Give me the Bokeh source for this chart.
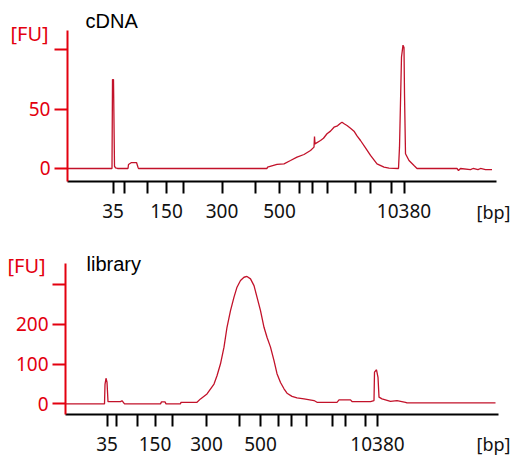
from bokeh.plotting import figure
from bokeh.models import FixedTicker, Range1d, Label
from bokeh.layouts import column
from bokeh.embed import file_html
from bokeh.resources import INLINE

# Ladder sizes (bp) and which ones carry a label
ladder_bp = [35, 50, 100, 150, 200, 300, 400, 500, 600, 700, 1000, 2000, 3000, 7000, 10380]
labeled_bp = [35, 150, 300, 500, 10380]

# cDNA run: migration time (s) of each ladder band
cdna_ladder_time = [22.5, 24.8, 29.3, 33.2, 36.5, 44.3, 51.0, 55.8, 59.8, 62.3, 65.4, 70.9, 73.9, 78.1, 80.7]
cdna_time = [13.4, 22.3, 22.4, 22.6, 22.8, 23.0, 23.4, 25.5, 25.6, 26.2, 27.2, 27.5, 27.6,
             53.3, 53.4, 55.3, 56.7, 58.0, 59.3, 60.7, 62.0, 62.7, 62.8, 62.9, 64.0, 64.6,
             65.3, 66.0, 66.7, 67.4, 68.0, 68.3, 68.8, 69.3, 70.0, 70.7, 71.3, 72.0, 73.0,
             74.0, 75.3, 76.7, 77.7, 79.6, 79.8, 80.2, 80.5, 80.7, 80.8, 81.0, 81.7, 82.7,
             83.3, 91.3, 91.6, 92.0, 94.0, 94.5, 95.5, 96.0, 97.0, 98.3]
cdna_fu = [0, 0, 75, 75, 2, 0.5, 0, 0, 3.4, 5, 5, 1, 0,
           0, 1.1, 3.4, 3.9, 6.7, 9.6, 11.8, 15.2, 18, 27, 20.8, 23.6, 25.5,
           29.3, 31.5, 34.8, 36.0, 38.2, 39, 37.5, 36.3, 34.0, 31.5, 27.5, 23.6, 17.4,
           11, 3.9, 1.1, 0.3, 0, 18, 94, 104, 102, 63, 12.4, 6.7, 2.5,
           0, 0, -1.7, 0, -1, 0, -1, 0, -1, -1]

# Library run
lib_ladder_time = [21.3, 23.1, 27.3, 30.9, 34.3, 41.2, 47.7, 52.0, 55.5, 58.1, 61.1, 66.3, 69.0, 72.9, 75.4]
lib_time = [13.0, 20.8, 20.9, 21.1, 21.3, 21.5, 24.0, 24.3, 24.8, 32.0, 32.2, 32.9, 33.1,
            36.0, 36.1, 39.3, 40.0, 41.3, 42.7, 43.3, 44.0, 44.7, 45.3, 46.0, 46.7, 47.3,
            48.0, 48.7, 49.3, 50.0, 50.7, 51.3, 52.0, 52.7, 53.3, 54.0, 54.7, 55.3, 56.0,
            56.7, 57.3, 58.3, 59.3, 60.7, 62.7, 63.3, 67.3, 67.7, 70.0, 70.3, 74.0, 74.7,
            74.8, 75.2, 75.5, 75.7, 76.3, 78.0, 79.3, 81.0, 81.3, 99.0]
lib_fu = [0, 0, 49, 64.5, 55, 5.8, 5.8, 8, 0, 0, 5, 5, 0,
          0, 4, 4, 12.6, 25, 50, 71, 101, 143, 193, 235, 269, 294,
          311, 319, 321, 315, 298, 269, 235, 193, 168, 143, 109, 76, 54,
          38, 27, 19, 15, 12.6, 8.4, 4, 4, 10, 10, 5.9, 5.9, 8.4,
          80, 86, 67, 17, 12.6, 6.5, 8, 4, 2.5, 2.5]

cdna_fu_ticks = [0, 50, 100]
lib_fu_ticks = [0, 100, 200, 300]

RED = "#e3000f"
TRACE = "#c2122a"
TICK_FONT = "Noto Sans"
TITLE_FONT = "Liberation Sans"


def panel(name, t, fu, ladder_t, fu_ticks, xr, yr, xb, yb, labels_pos):
    # frame spans the whole canvas; axes sit at fixed locations with bounds
    p = figure(width=513, height=228, output_backend="svg", toolbar_location=None,
               x_range=Range1d(*xr), y_range=Range1d(*yr),
               min_border_left=0, min_border_right=0,
               min_border_top=0, min_border_bottom=0)
    p.title.visible = False
    p.outline_line_color = None
    p.xgrid.visible = False
    p.ygrid.visible = False
    p.background_fill_color = "white"
    p.border_fill_color = "white"

    p.line(t, fu, line_color=TRACE, line_width=1.3)

    xa = p.xaxis[0]
    xa.fixed_location = yb[0]
    xa.bounds = xb
    xa.ticker = FixedTicker(ticks=ladder_t, minor_ticks=[])
    xa.major_label_overrides = {lt: (str(bp) if bp in labeled_bp else "")
                                for lt, bp in zip(ladder_t, ladder_bp)}
    xa.axis_line_color = "black"
    xa.axis_line_width = 2
    xa.major_tick_line_color = "black"
    xa.major_tick_line_width = 2
    xa.major_tick_in = 0
    xa.major_tick_out = 12
    xa.major_label_standoff = 10
    xa.major_label_text_font = TICK_FONT
    xa.major_label_text_font_size = "19px"
    xa.major_label_text_color = "#111111"

    ya = p.yaxis[0]
    ya.fixed_location = xb[0]
    ya.bounds = yb
    ya.ticker = FixedTicker(ticks=fu_ticks, minor_ticks=[])
    ya.major_label_overrides = {fu_ticks[-1]: ""}
    ya.axis_line_color = RED
    ya.axis_line_width = 2
    ya.major_tick_line_color = RED
    ya.major_tick_line_width = 2
    ya.major_tick_in = 0
    ya.major_tick_out = 13
    ya.major_label_standoff = 4
    ya.major_label_text_font = TICK_FONT
    ya.major_label_text_font_size = "19px"
    ya.major_label_text_color = RED

    # label positions: screen px from the canvas left / bottom edge
    (nx, ny), (fx, fy), (bx, by) = labels_pos
    p.add_layout(Label(x=nx, y=ny, x_units="screen", y_units="screen", text=name,
                       text_font=TITLE_FONT, text_font_size="20px", text_color="black",
                       text_baseline="middle"))
    p.add_layout(Label(x=fx, y=fy, x_units="screen", y_units="screen", text="[FU]",
                       text_font=TICK_FONT, text_font_size="20px", text_color=RED,
                       text_baseline="middle"))
    p.add_layout(Label(x=bx, y=by, x_units="screen", y_units="screen", text="[bp]",
                       text_font=TICK_FONT, text_font_size="18px", text_color="#111111",
                       text_baseline="middle"))
    return p


top = panel("cDNA", cdna_time, cdna_fu, cdna_ladder_time, cdna_fu_ticks,
            (0, 102.6), (-50.6, 141.65), (13.4, 99.2), (-11.0, 116.3),
            ((85, 208), (10, 195), (476, 17)))
bot = panel("library", lib_time, lib_fu, lib_ladder_time, lib_fu_ticks,
            (0, 102.6), (-132.5, 441.8), (13.0, 99.6), (-26.9, 353.4),
            ((86, 193), (7, 191), (476, 13)))

layout = column(top, bot, spacing=0)
open("out.html", "w").write(file_html(layout, INLINE))
